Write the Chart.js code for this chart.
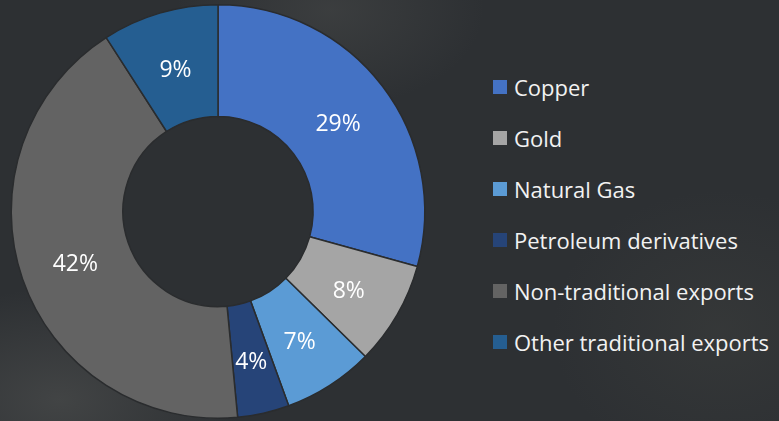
<!DOCTYPE html>
<html>
<head>
<meta charset="utf-8">
<script src="https://cdn.jsdelivr.net/npm/chart.js@4/dist/chart.umd.min.js"></script>
<style>
    html, body {
        margin: 0;
        padding: 0;
    }
    body {
        width: 779px;
        height: 421px;
        overflow: hidden;
        position: relative;
        font-family: "Open Sans", "Noto Sans", sans-serif;
        background:
            radial-gradient(ellipse 260px 160px at 60px 400px, rgba(120, 120, 115, 0.28), rgba(0, 0, 0, 0) 70%),
            radial-gradient(ellipse 220px 140px at 330px 10px, rgba(110, 110, 105, 0.22), rgba(0, 0, 0, 0) 70%),
            radial-gradient(ellipse 240px 200px at 720px 330px, rgba(90, 90, 80, 0.18), rgba(0, 0, 0, 0) 70%),
            #2d3033;
    }
    #chartBox {
        position: absolute;
        left: 0;
        top: 0;
        width: 436px;
        height: 421px;
    }
    #legend {
        position: absolute;
        left: 493px;
        top: 73px;
        margin: 0;
        padding: 0;
        list-style: none;
    }
    #legend li {
        height: 51px;
        display: flex;
        align-items: flex-start;
        color: #f2f2f2;
        font-size: 22px;
        line-height: 28px;
        white-space: nowrap;
    }
    #legend span.box {
        width: 14px;
        height: 14px;
        margin-top: 7px;
        margin-right: 7px;
        flex: none;
    }
</style>
</head>
<body>
<div id="chartBox"><canvas id="exportsChart"></canvas></div>
<ul id="legend"></ul>
<script>
// ── Data ─────────────────────────────────────────────────
const categories = ["Copper", "Gold", "Natural Gas", "Petroleum derivatives", "Non-traditional exports", "Other traditional exports"];
const shares = [29, 8, 7, 4, 42, 9];
const sliceColors = ["#4472c4", "#a5a5a5", "#5b9bd5", "#264478", "#636363", "#255e91"];

// ── Percent labels in the middle of each ring segment ────
const sliceLabels = {
    id: "sliceLabels",
    afterDatasetsDraw(chart) {
        const ctx = chart.ctx;
        const meta = chart.getDatasetMeta(0);
        ctx.save();
        ctx.fillStyle = "#ffffff";
        ctx.font = "23px 'Open Sans', 'Noto Sans', sans-serif";
        ctx.textAlign = "center";
        ctx.textBaseline = "middle";
        meta.data.forEach((arc, i) => {
            const pos = arc.tooltipPosition();
            ctx.fillText(shares[i] + "%", pos.x, pos.y + 4);
        });
        ctx.restore();
    }
};

new Chart(document.getElementById("exportsChart"), {
    type: "doughnut",
    data: {
        labels: categories,
        datasets: [{
            data: shares,
            backgroundColor: sliceColors,
            borderColor: "#2a2c2e",
            borderWidth: 1.5
        }]
    },
    options: {
        responsive: true,
        maintainAspectRatio: false,
        animation: false,
        cutout: "46%",
        layout: {
            padding: { top: 4, bottom: 2 }
        },
        plugins: {
            legend: { display: false },
            tooltip: { enabled: false }
        }
    },
    plugins: [sliceLabels]
});

// ── Legend ───────────────────────────────────────────────
const legend = document.getElementById("legend");
categories.forEach((name, i) => {
    const li = document.createElement("li");
    li.innerHTML = `<span class="box" style="background:${sliceColors[i]}"></span>${name}`;
    legend.appendChild(li);
});
</script>
</body>
</html>
